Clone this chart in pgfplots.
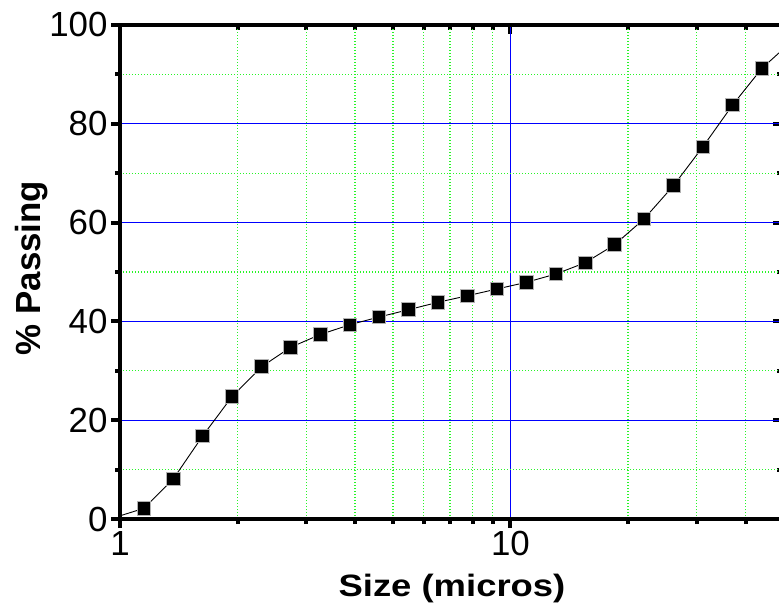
\documentclass[border=0pt]{standalone}
\usepackage{fontspec}
\setmainfont{Liberation Sans}
\newfontfamily\stretchfont[FakeStretch=1.18]{Liberation Sans}
\usepackage{pgfplots}
\pgfplotsset{compat=1.18}
\usetikzlibrary{calc}
\definecolor{gridgreen}{RGB}{40,245,40}
\definecolor{gridblue}{RGB}{0,0,255}

\begin{document}
\begin{tikzpicture}
\begin{axis}[
  scale only axis, width=662bp, height=494bp,
  xmode=log, xmin=1, xmax=49.6, ymin=0, ymax=100,
  xtick={1,10}, minor xtick={2,3,4,5,6,7,8,9,20,30,40},
  ytick={0,20,40,60,80,100}, minor ytick={10,30,50,70,90},
  axis line style={line width=4.6bp, line cap=rect},
  tick style={line width=4bp, black},
  major tick length=9bp, minor tick length=5bp,
  at={(0,0)}, anchor=south west,
  tick align=inside, xtick pos=right, ytick pos=right,
  xticklabels={}, yticklabels={}]
\end{axis}
\begin{axis}[
  scale only axis, width=662bp, height=494bp,
  xmode=log, xmin=1, xmax=49.6, ymin=0, ymax=100,
  xtick={1,10}, minor xtick={2,3,4,5,6,7,8,9,20,30,40},
  ytick={0,20,40,60,80,100}, minor ytick={10,30,50,70,90},
  axis line style={line width=4.6bp, line cap=rect},
  tick style={line width=4bp, black},
  major tick length=9bp, minor tick length=5bp,
  at={(0,0)}, anchor=south west,
  /pgf/number format/assume math mode=true,
  tick label style={font=\fontsize{35}{40}\selectfont},
  name=ax, tick align=outside, xtick pos=left, ytick pos=left,
  grid=both,
  major grid style={gridblue, line width=1.2bp},
  minor grid style={gridgreen, line width=1.2bp, dash pattern=on 1bp off 2bp},
  xticklabels={1,10},
  xlabel={\stretchfont\bfseries Size (micros)},
  ylabel={\bfseries\% Passing},
  xlabel style={font=\fontsize{31}{36}\selectfont, at={(axis description cs:0.5015,-0.1573)}, anchor=base},
  ylabel style={font=\fontsize{35}{40}\selectfont, at={(axis description cs:-0.1208,0.508)}, anchor=base},
]
\addplot[black, line width=0.9bp, mark=none] coordinates {
(0.969,0.3) (1.152,2.17) (1.369,8.10) (1.628,16.8) (1.936,24.76) (2.306,30.83)
(2.736,34.76) (3.258,37.35) (3.882,39.33) (4.606,40.89) (5.487,42.37)
(6.523,43.87) (7.771,45.20) (9.235,46.56) (10.98,47.91) (13.08,49.60)
(15.54,51.88) (18.49,55.53) (21.98,60.73) (26.15,67.47) (31.12,75.36)
(37.07,83.81) (44.06,91.23) (52.4,96.6)
};
\addplot[only marks, mark=square*, mark size=6.8bp, mark options={fill=black, draw=gray!60, line width=0.8bp}] coordinates {
(1.152,2.17) (1.369,8.10) (1.628,16.8) (1.936,24.76) (2.306,30.83)
(2.736,34.76) (3.258,37.35) (3.882,39.33) (4.606,40.89) (5.487,42.37)
(6.523,43.87) (7.771,45.20) (9.235,46.56) (10.98,47.91) (13.08,49.60)
(15.54,51.88) (18.49,55.53) (21.98,60.73) (26.15,67.47) (31.12,75.36)
(37.07,83.81) (44.06,91.23)
};
\end{axis}
\pgfresetboundingbox
\path[use as bounding box] ($(ax.south west)+(-120bp,-94bp)$) rectangle ($(ax.south west)+(659bp,519bp)$);
\end{tikzpicture}
\end{document}
